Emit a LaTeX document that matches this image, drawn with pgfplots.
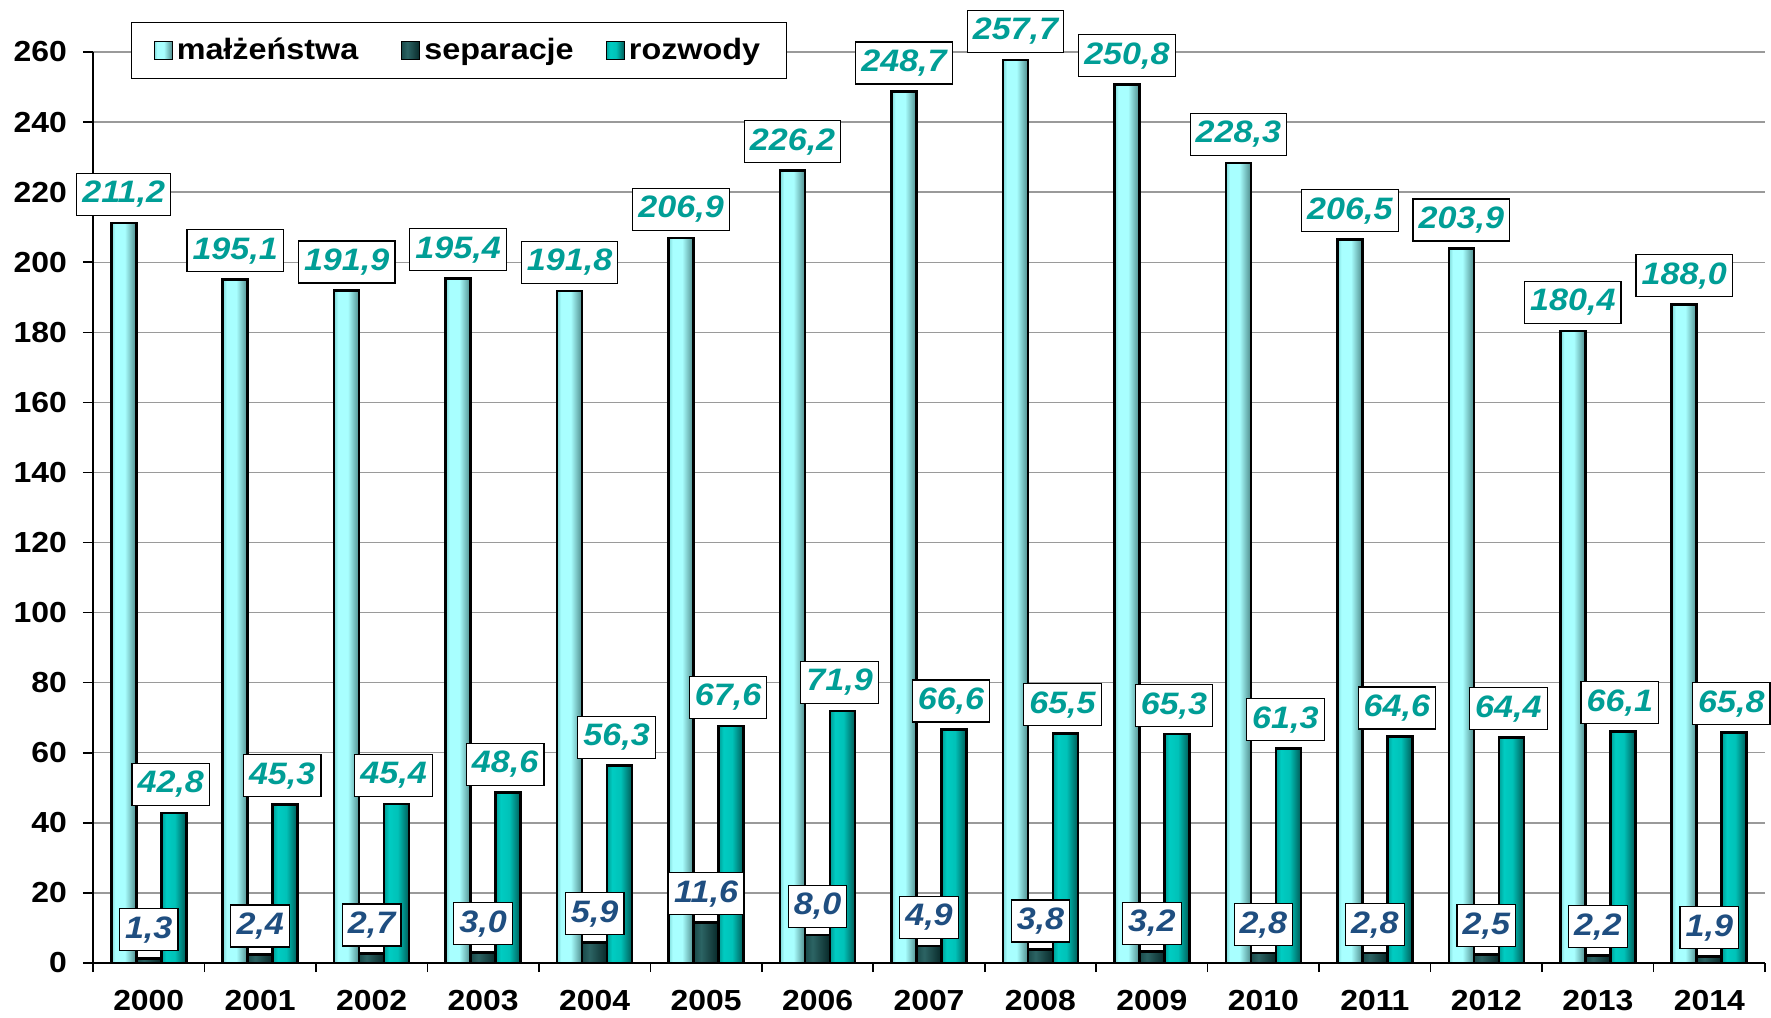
\documentclass[border=0pt]{standalone}
\usepackage{fontspec}
\setmainfont{Liberation Sans}[FakeStretch=1.1]
\usepackage{pgfplots}
\pgfplotsset{compat=1.18}
\definecolor{labteal}{HTML}{009E96}
\definecolor{labblue}{HTML}{1F4E80}
\definecolor{gridgray}{HTML}{9A9A9A}
\definecolor{mzA}{HTML}{7ED8D8}
\definecolor{mzB}{HTML}{A8FFFF}
\definecolor{mzC}{HTML}{4E8C8C}
\definecolor{spA}{HTML}{1A4A4A}
\definecolor{spB}{HTML}{2C6464}
\definecolor{spC}{HTML}{082828}
\definecolor{rzA}{HTML}{009E96}
\definecolor{rzB}{HTML}{00CCC2}
\definecolor{rzD}{HTML}{00C2B8}
\definecolor{rzC}{HTML}{005A56}
\pgfdeclarehorizontalshading{malsh}{100bp}{color(0bp)=(mzA); color(25bp)=(mzA); color(33bp)=(mzB); color(52bp)=(mzB); color(75bp)=(mzC); color(100bp)=(mzC)}
\pgfdeclarehorizontalshading{sepsh}{100bp}{color(0bp)=(spA); color(25bp)=(spA); color(40bp)=(spB); color(75bp)=(spC); color(100bp)=(spC)}
\pgfdeclarehorizontalshading{rozsh}{100bp}{color(0bp)=(rzA); color(25bp)=(rzA); color(35bp)=(rzB); color(52bp)=(rzD); color(75bp)=(rzC); color(100bp)=(rzC)}

\pgfplotstableread{
x mal sep roz
0 211.2 1.3 42.8
1 195.1 2.4 45.3
2 191.9 2.7 45.4
3 195.4 3.0 48.6
4 191.8 5.9 56.3
5 206.9 11.6 67.6
6 226.2 8.0 71.9
7 248.7 4.9 66.6
8 257.7 3.8 65.5
9 250.8 3.2 65.3
10 228.3 2.8 61.3
11 206.5 2.8 64.6
12 203.9 2.5 64.4
13 180.4 2.2 66.1
14 188.0 1.9 65.8
}\data

\tikzset{
  labbox/.style={draw=black, fill=white, line width=0.6pt, inner xsep=2.8pt,
    minimum height=21pt, anchor=south, yshift=3.5pt,
    font=\bfseries\itshape\fontsize{15.5}{17}\selectfont, text=#1},
  malstyle/.style={draw=black, line width=1.3pt, shade, shading=malsh},
  sepstyle/.style={draw=black, line width=1.3pt, shade, shading=sepsh},
  rozstyle/.style={draw=black, line width=1.3pt, shade, shading=rozsh},
}

\begin{document}
\begin{tikzpicture}
\useasboundingbox (-46.5pt,-27pt) rectangle (839pt,481.5pt);
\begin{axis}[
  scale only axis,
  width=836pt, height=455.5pt,
  xmin=-0.5, xmax=14.5,
  ymin=0, ymax=260,
  ytick={0,20,...,260},
  xtick={0,...,14},
  xticklabels={2000,2001,2002,2003,2004,2005,2006,2007,2008,2009,2010,2011,2012,2013,2014},
  minor xtick={-0.5,0.5,...,14.5},
  major x tick style={draw=none},
  tick align=outside,
  major tick length=5pt,
  minor tick length=4.5pt,
  tick style={black, line width=0.8pt},
  axis x line*=bottom,
  axis y line*=left,
  axis line style={black, line width=0.8pt},
  ymajorgrids,
  grid style={gridgray, line width=0.7pt},
  /pgf/number format/assume math mode=true,
  ticklabel style={font=\bfseries\fontsize{14.5}{16}\selectfont},
  yticklabel style={xshift=-4.5pt},
  xticklabel style={yshift=-5pt},
  bar width=12.5pt,
  clip=false,
  legend style={at={(0.2188,1.0016)}, anchor=center, legend columns=3,
    draw=black, line width=0.6pt, fill=white,
    font=\bfseries\fontsize{14.7}{16}\selectfont,
    inner xsep=11pt, inner ysep=6pt,
    /tikz/column 2/.style={column sep=19.5pt},
    /tikz/column 4/.style={column sep=14pt}},
  legend cell align=left,
  nodes near coords={\pgfmathprintnumber[fixed,fixed zerofill,precision=1,use comma]{\pgfplotspointmeta}},
]
\addlegendimage{legend image code/.code={\draw[malstyle,line width=0.6pt] (0pt,-4.5pt) rectangle (9pt,4.5pt);}}
\addlegendentry{małżeństwa}
\addlegendimage{legend image code/.code={\draw[sepstyle,line width=0.6pt] (0pt,-4.5pt) rectangle (9pt,4.5pt);}}
\addlegendentry{separacje}
\addlegendimage{legend image code/.code={\draw[rozstyle,line width=0.6pt] (0pt,-4.5pt) rectangle (9pt,4.5pt);}}
\addlegendentry{rozwody}

\pgfplotsinvokeforeach{0,...,14}{
\addplot[ybar, bar shift=-12.5pt, malstyle, forget plot,
  x filter/.expression={abs(x-#1)<0.2 ? x : nan},
  every node near coord/.style={labbox=labteal, xshift=-12.5pt}] table[x=x,y=mal] {\data};
\addplot[ybar, bar shift=12.5pt, rozstyle, forget plot,
  x filter/.expression={abs(x-#1)<0.2 ? x : nan},
  every node near coord/.style={labbox=labteal, xshift=11pt}] table[x=x,y=roz] {\data};
}
\pgfplotsinvokeforeach{0,...,14}{
\addplot[ybar, bar shift=0pt, sepstyle, forget plot,
  x filter/.expression={abs(x-#1)<0.2 ? x : nan},
  every node near coord/.style={labbox=labblue}] table[x=x,y=sep] {\data};
}
\end{axis}
\end{tikzpicture}
\end{document}
